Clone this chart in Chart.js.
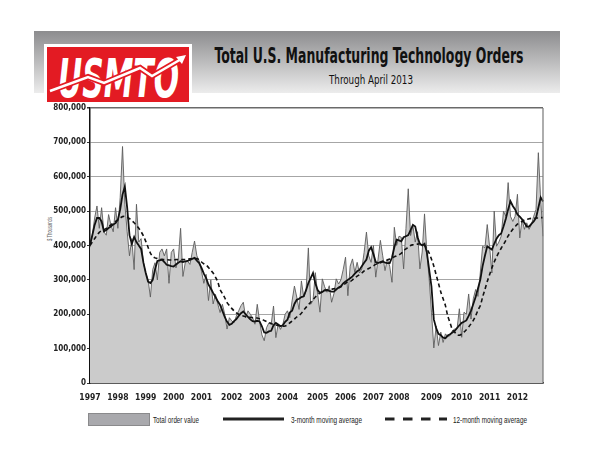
<!DOCTYPE html>
<html>
<head>
<meta charset="utf-8">
<script src="https://cdn.jsdelivr.net/npm/chart.js@4.4.1/dist/chart.umd.min.js"></script>
<style>
  html, body { margin: 0; padding: 0; background: #fff; }
  #page { position: relative; width: 595px; height: 460px; overflow: hidden; }
  #deco { position: absolute; left: 0; top: 0; }
  #plot { position: absolute; left: 0; top: 100px; width: 595px; height: 305px; }
</style>
</head>
<body>
<div id="page">
  <svg id="deco" width="595" height="460" xmlns="http://www.w3.org/2000/svg">
    <defs>
      <linearGradient id="band" x1="0" y1="0" x2="0" y2="1">
        <stop offset="0" stop-color="#8c8c8e"/>
        <stop offset="1" stop-color="#ececec"/>
      </linearGradient>
    </defs>
    <!-- header band -->
    <rect x="34" y="31" width="526" height="62" fill="url(#band)"/>
    <!-- logo -->
    <rect x="44" y="44" width="148" height="61" fill="#fff"/>
    <rect x="47" y="47" width="142" height="55" fill="#e31b23"/>
    <text x="58" y="97" font-family="Liberation Sans Narrow, DejaVu Sans Condensed, sans-serif" font-weight="bold"
          font-style="italic" font-size="54" fill="#fff" textLength="121" lengthAdjust="spacingAndGlyphs">USMTO</text>
    <polyline points="50,91 88,77 104,83 140,68 152,76 183,58" fill="none" stroke="#e31b23" stroke-width="6"/>
    <polyline points="50,91 88,77 104,83 140,68 152,76 183,58" fill="none" stroke="#fff" stroke-width="2.5"/>
    <polygon points="186,55 176,57 182,64" fill="#fff"/>
    <!-- titles -->
    <text x="369" y="63" text-anchor="middle" font-family="Liberation Sans Narrow, DejaVu Sans Condensed, sans-serif"
          font-weight="bold" font-size="21" fill="#111" textLength="309" lengthAdjust="spacingAndGlyphs">Total U.S. Manufacturing Technology Orders</text>
    <text x="371" y="84" text-anchor="middle" font-family="Liberation Sans Narrow, DejaVu Sans Condensed, sans-serif"
          font-size="13" fill="#111" textLength="84" lengthAdjust="spacingAndGlyphs">Through April 2013</text>
    <!-- y axis title -->
    <text transform="translate(52,229) rotate(-90)" text-anchor="middle" font-family="Liberation Sans Narrow, sans-serif"
          font-size="7" fill="#666" textLength="24" lengthAdjust="spacingAndGlyphs">$ Thousands</text>
    <!-- legend -->
    <rect x="88.5" y="413.5" width="61" height="12" fill="#a9a9ad" stroke="#8a8a8c" stroke-width="1"/>
    <text x="153" y="422.5" font-family="Liberation Sans Narrow, sans-serif" font-size="9" fill="#1a1a1a"
          textLength="46" lengthAdjust="spacingAndGlyphs">Total order value</text>
    <line x1="223" y1="419" x2="284" y2="419" stroke="#222" stroke-width="3"/>
    <text x="291" y="422.5" font-family="Liberation Sans Narrow, sans-serif" font-size="9" fill="#1a1a1a"
          textLength="71" lengthAdjust="spacingAndGlyphs">3-month moving average</text>
    <line x1="385" y1="419" x2="447" y2="419" stroke="#222" stroke-width="3" stroke-dasharray="9.5 8.5"/>
    <text x="453" y="422.5" font-family="Liberation Sans Narrow, sans-serif" font-size="9" fill="#1a1a1a"
          textLength="74" lengthAdjust="spacingAndGlyphs">12-month moving average</text>
  </svg>
  <canvas id="plot" width="595" height="305"></canvas>
</div>
<script>
// Monthly USMTO orders, Jan 1997 .. Apr 2013, in $ millions (axis shows $ thousands)
const years = ['1997','1998','1999','2000','2001','2002','2003','2004',
               '2005','2006','2007','2008','2009','2010','2011','2012'];
// month index where each year label sits on the reference axis
const yearTickIdx = [0,12,24,36,48,61,73,85,98,110,122,133,147,160,172,184];

const totalOrders = [
  395,430,480,515,450,510,440,430,490,460,440,510,
  450,540,688,520,440,370,420,330,520,410,420,350,
  320,300,250,330,350,300,380,390,370,390,290,380,
  390,335,360,450,310,350,355,345,380,413,370,355,
  325,290,316,240,300,230,258,230,205,229,200,157,
  190,181,175,195,210,225,235,190,210,200,190,171,
  229,180,140,123,161,175,171,224,132,171,156,170,
  200,210,190,239,282,250,214,297,250,268,393,229,
  240,321,258,206,303,280,264,283,235,260,303,288,
  300,330,366,254,340,361,322,351,320,332,380,439,
  370,351,400,308,360,415,370,327,361,340,293,453,
  400,427,424,332,449,565,429,458,410,440,332,381,
  492,381,303,206,102,165,109,148,118,143,135,138,
  152,157,157,216,133,206,200,259,186,245,272,252,
  320,398,393,461,398,320,500,398,410,427,500,485,
  583,485,470,485,549,422,476,447,466,447,461,485,
  505,670,534,427
];

const avg3 = [
  402,430,460,480,480,470,441,445,451,455,461,465,
  475,505,548,572,510,430,405,425,410,400,390,350,
  320,295,291,300,330,355,357,359,352,344,342,340,
  339,345,350,354,352,354,355,358,361,364,356,349,
  335,318,305,286,275,262,250,238,227,210,192,178,
  169,172,180,186,195,203,208,200,192,185,180,179,
  181,179,165,147,146,150,152,168,175,170,165,168,
  178,184,205,210,230,242,245,250,252,270,291,305,
  320,290,270,262,265,270,271,268,266,266,272,278,
  281,290,295,300,305,310,318,325,329,340,350,359,
  385,395,375,352,349,352,354,350,349,349,365,395,
  417,415,412,424,427,430,445,460,455,424,405,400,
  405,380,330,280,185,160,143,139,132,130,138,142,
  147,152,160,168,175,178,182,195,210,230,250,275,
  300,340,370,398,393,388,405,420,430,435,455,478,
  505,529,515,505,490,484,476,466,455,455,463,470,
  480,510,540,528
];

const avg12 = [
  400,410,420,430,438,443,446,450,455,460,465,470,
  475,480,484,485,482,478,472,466,458,450,440,428,
  412,395,378,368,364,362,360,359,359,359,358,358,
  358,359,359,359,359,359,360,361,362,363,362,358,
  352,347,343,336,328,320,308,294,272,260,248,234,
  225,217,210,204,200,197,195,193,192,191,190,189,
  189,187,185,182,179,176,173,170,169,167,166,165,
  166,169,175,180,186,192,197,203,212,220,228,235,
  242,250,256,262,265,268,270,271,273,274,275,276,
  280,285,290,294,295,300,306,311,315,320,326,330,
  333,337,341,345,348,350,353,356,358,361,364,367,
  370,373,377,385,390,395,400,402,403,404,405,403,
  400,390,378,360,340,315,290,265,245,225,195,175,
  155,148,140,139,142,148,155,163,172,182,195,212,
  225,250,272,295,315,335,352,367,380,392,403,415,
  428,438,447,455,462,466,470,474,476,478,479,479,
  480,480,481,481
];

const K = 1000; // $ millions -> $ thousands
const labels = totalOrders.map((_, i) => {
  const y = yearTickIdx.indexOf(i);
  return y >= 0 ? years[y] : '';
});

const FONT = "'Liberation Sans Narrow', 'DejaVu Sans Condensed', sans-serif";

// right-hand frame line like the original
const frame = {
  id: 'frame',
  afterDatasetsDraw(chart) {
    const { ctx, chartArea: a } = chart;
    ctx.save();
    ctx.strokeStyle = '#777';
    ctx.lineWidth = 1.2;
    ctx.beginPath();
    ctx.moveTo(a.right, a.top);
    ctx.lineTo(a.right, a.bottom);
    ctx.stroke();
    ctx.restore();
  }
};

new Chart(document.getElementById('plot'), {
  type: 'line',
  data: {
    labels,
    datasets: [
      {
        label: 'Total order value', data: totalOrders.map(v => v * K), order: 3,
        borderColor: '#5c5c5c', borderWidth: 0.9, backgroundColor: '#cbcbcb',
        fill: 'origin', pointRadius: 0, tension: 0,
      },
      {
        label: '12-month moving average', data: avg12.map(v => v * K), order: 2,
        borderColor: '#111', borderWidth: 1.6, borderDash: [4, 3],
        fill: false, pointRadius: 0, tension: 0.3,
      },
      {
        label: '3-month moving average', data: avg3.map(v => v * K), order: 1,
        borderColor: '#111', borderWidth: 1.8,
        fill: false, pointRadius: 0, tension: 0,
      },
    ]
  },
  options: {
    responsive: false, animation: false,
    layout: { padding: { top: 8, right: 52, left: 0, bottom: 0 } },
    plugins: { legend: { display: false }, tooltip: { enabled: false } },
    scales: {
      x: {
        grid: { display: false },
        border: { color: '#111', width: 1.5 },
        ticks: {
          autoSkip: false, maxRotation: 0, padding: 2, color: '#222',
          font: { family: FONT, size: 8.5, weight: 'bold' },
          callback(v) { return this.getLabelForValue(v); }
        },
        afterFit(s) { s.height = 22; }
      },
      y: {
        min: 0, max: 800000,
        border: { color: '#111', width: 1.5 },
        grid: {
          color: c => c.tick && c.tick.value === 800000 ? '#6a6a6a' : '#a6a6a6',
          lineWidth: c => c.tick && c.tick.value === 800000 ? 1.6 : 1,
          tickColor: '#333', tickLength: 3,
        },
        ticks: {
          stepSize: 100000, padding: 1, color: '#222',
          font: { family: FONT, size: 8, weight: 'bold' },
          callback: v => v.toLocaleString('en-US')
        },
        afterFit(s) { s.width = 90; }
      }
    }
  },
  plugins: [frame]
});
</script>
</body>
</html>
